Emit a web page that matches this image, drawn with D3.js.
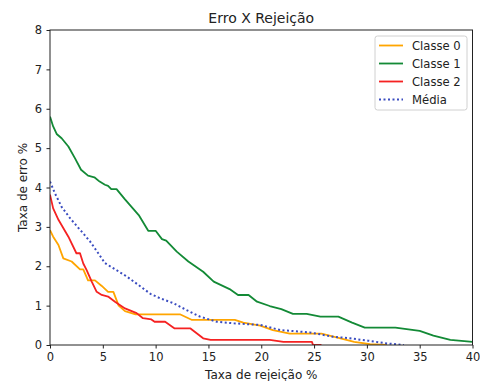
<!DOCTYPE html>
<html>
<head>
<meta charset="utf-8">
<script src="https://cdn.jsdelivr.net/npm/d3@7"></script>
<style>
  html, body { margin: 0; padding: 0; background: #fff; }
  svg { display: block; }
  text { font-family: "DejaVu Sans", sans-serif; fill: #222; }
</style>
</head>
<body>
<svg id="chart" width="480" height="381"></svg>
<script>
// Rejection rate (x, %) and error rate (y, %) per class
const classe0X = [0, 0.3, 0.8, 1.26, 2.05, 2.84, 3.15, 3.6, 4.26, 4.9, 5.5, 6.0, 6.5, 7.1, 8.1, 12.3, 13.4, 17.5, 18.3, 19.9, 21.1, 22.7, 25.7, 27.5, 28.8, 30.3, 31.9];
const classe0Y = [2.92, 2.75, 2.54, 2.2, 2.12, 1.92, 1.92, 1.64, 1.64, 1.5, 1.35, 1.35, 1.0, 0.86, 0.78, 0.78, 0.64, 0.64, 0.57, 0.49, 0.38, 0.29, 0.29, 0.17, 0.08, 0.02, 0];

const classe1X = [0, 0.3, 0.63, 1.1, 1.74, 2.37, 2.94, 3.6, 4.2, 4.7, 5.2, 5.5, 5.8, 6.3, 7.1, 8.4, 9.3, 10.0, 10.6, 11.0, 12.0, 13.1, 14.5, 15.5, 17.0, 17.8, 18.8, 19.6, 20.8, 21.9, 23.0, 24.3, 25.6, 27.3, 28.6, 29.8, 32.7, 35.0, 36.3, 37.9, 40];
const classe1Y = [5.8, 5.55, 5.36, 5.25, 5.04, 4.74, 4.45, 4.3, 4.26, 4.15, 4.07, 4.04, 3.96, 3.96, 3.7, 3.3, 2.9, 2.9, 2.69, 2.65, 2.37, 2.12, 1.86, 1.61, 1.42, 1.27, 1.27, 1.1, 0.99, 0.91, 0.79, 0.79, 0.72, 0.72, 0.57, 0.44, 0.44, 0.36, 0.24, 0.13, 0.08];

const classe2X = [0, 0.3, 0.8, 1.74, 2.5, 2.84, 3.15, 3.47, 3.95, 4.42, 4.9, 5.5, 6.15, 7.1, 8.2, 8.8, 9.6, 9.9, 10.9, 11.8, 12.9, 13.3, 14.5, 15.2, 20.8, 22.1, 24.8, 24.9, 25.7];
const classe2Y = [3.82, 3.47, 3.18, 2.75, 2.33, 2.33, 2.07, 1.9, 1.61, 1.35, 1.27, 1.23, 1.1, 0.93, 0.81, 0.68, 0.65, 0.59, 0.59, 0.42, 0.42, 0.42, 0.17, 0.13, 0.13, 0.08, 0.08, 0, 0];

const mediaX = [0, 0.47, 1.1, 1.9, 2.7, 3.0, 3.79, 4.57, 5.2, 6.3, 7.26, 8.4, 9.5, 10.4, 11.7, 12.9, 14.2, 15.8, 17.4, 19.9, 21.8, 24.6, 26.8, 28.4, 30.1, 31.9, 33.5];
const mediaY = [4.15, 3.85, 3.51, 3.22, 2.97, 2.88, 2.63, 2.33, 2.08, 1.9, 1.74, 1.52, 1.3, 1.19, 1.06, 0.89, 0.72, 0.59, 0.55, 0.51, 0.38, 0.32, 0.21, 0.17, 0.11, 0.04, 0];

const seriesNames = ["Classe 0", "Classe 1", "Classe 2", "Média"];
const xTicks = [0, 5, 10, 15, 20, 25, 30, 35, 40];
const yTicks = [0, 1, 2, 3, 4, 5, 6, 7, 8];

const series = [
  { name: seriesNames[0], xs: classe0X, ys: classe0Y, color: "#ffa500", dash: null },
  { name: seriesNames[1], xs: classe1X, ys: classe1Y, color: "#138a36", dash: null },
  { name: seriesNames[2], xs: classe2X, ys: classe2Y, color: "#f52222", dash: null },
  { name: seriesNames[3], xs: mediaX, ys: mediaY, color: "#3a4cc0", dash: "2,2.5" }
];

const svg = d3.select("#chart");
const plotL = 50, plotR = 472.5, plotT = 30, plotB = 345;

const x = d3.scaleLinear().domain([0, 40]).range([plotL, plotR]);
const y = d3.scaleLinear().domain([0, 8]).range([plotB, plotT]);

// Plot area clip so lines stay inside the axes
svg.append("clipPath").attr("id", "plotclip")
  .append("rect").attr("x", plotL).attr("y", plotT - 2)
  .attr("width", plotR - plotL).attr("height", plotB - plotT + 2);

const line = d3.line().x(d => x(d[0])).y(d => y(d[1]));

const plot = svg.append("g").attr("clip-path", "url(#plotclip)");
series.forEach(s => {
  const pts = s.xs.map((v, i) => [v, s.ys[i]]);
  plot.append("path")
    .attr("d", line(pts))
    .attr("fill", "none")
    .attr("stroke", s.color)
    .attr("stroke-width", s.dash ? 2 : 1.8)
    .attr("stroke-linejoin", "round")
    .attr("stroke-dasharray", s.dash);
});

// Frame
svg.append("rect")
  .attr("x", plotL).attr("y", plotT)
  .attr("width", plotR - plotL).attr("height", plotB - plotT)
  .attr("fill", "none").attr("stroke", "#222").attr("stroke-width", 1);

// Axes
const xAxis = svg.append("g").attr("transform", `translate(0,${plotB})`)
  .call(d3.axisBottom(x).tickValues(xTicks).tickFormat(d3.format("d")).tickSize(3.5).tickPadding(4.5));
const yAxis = svg.append("g").attr("transform", `translate(${plotL},0)`)
  .call(d3.axisLeft(y).tickValues(yTicks).tickFormat(d3.format("d")).tickSize(3.5).tickPadding(4.5));
[xAxis, yAxis].forEach(a => {
  a.select(".domain").remove();
  a.selectAll(".tick line").attr("stroke", "#222");
  a.selectAll(".tick text").attr("font-size", 11.5).attr("font-family", "DejaVu Sans, sans-serif").attr("fill", "#222");
});

// Title and axis labels
svg.append("text").attr("x", (plotL + plotR) / 2).attr("y", 23)
  .attr("text-anchor", "middle").attr("font-size", 14).text("Erro X Rejeição");
svg.append("text").attr("x", (plotL + plotR) / 2).attr("y", 378.5)
  .attr("text-anchor", "middle").attr("font-size", 12).text("Taxa de rejeição %");
svg.append("text").attr("transform", `translate(27,${(plotT + plotB) / 2}) rotate(-90)`)
  .attr("text-anchor", "middle").attr("font-size", 12).text("Taxa de erro %");

// Legend
const lg = svg.append("g").attr("transform", "translate(375,36)");
lg.append("rect").attr("width", 92).attr("height", 74).attr("rx", 2.5)
  .attr("fill", "#fff").attr("fill-opacity", 0.8).attr("stroke", "#d0d0d0");
series.forEach((s, i) => {
  const ry = 9.5 + i * 18;
  lg.append("line").attr("x1", 4).attr("x2", 28).attr("y1", ry).attr("y2", ry)
    .attr("stroke", s.color).attr("stroke-width", s.dash ? 2 : 1.8)
    .attr("stroke-dasharray", s.dash);
  lg.append("text").attr("x", 37).attr("y", ry + 4.3).attr("font-size", 11.6).text(s.name);
});
</script>
</body>
</html>
